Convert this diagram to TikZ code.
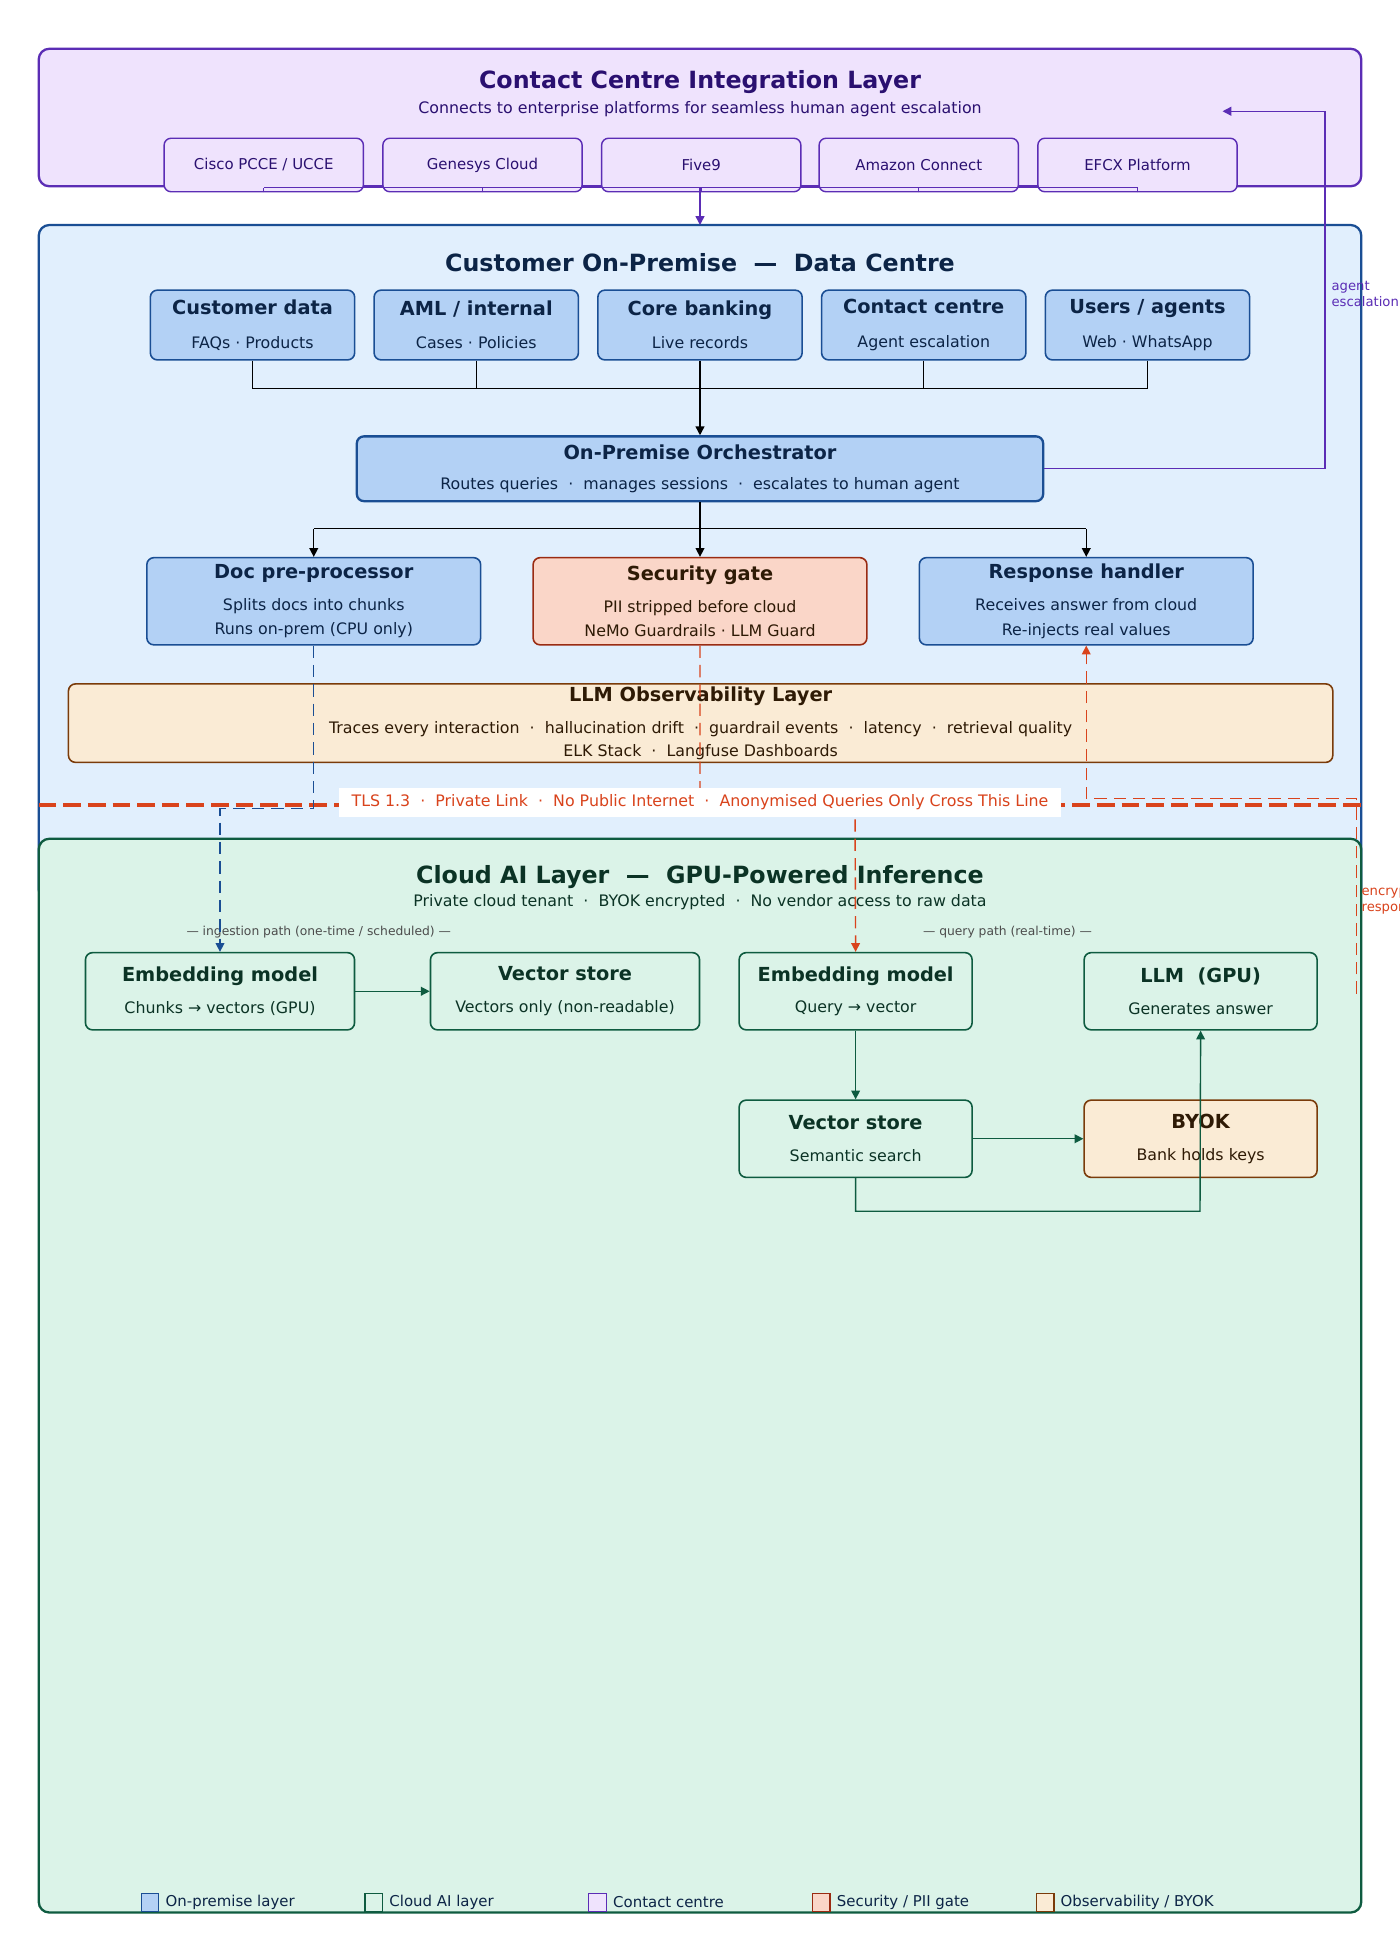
\documentclass[tikz,border=0pt]{standalone}
\usepackage{fontspec}
\setmainfont{DejaVu Sans}
\usetikzlibrary{arrows.meta, positioning, calc}
\definecolor{ccfill}{HTML}{EFE3FD}
\definecolor{ccdraw}{HTML}{5B2DB5}
\definecolor{cctext}{HTML}{2A1070}
\definecolor{opfill}{HTML}{E1EFFD}
\definecolor{opbox}{HTML}{B3D1F5}
\definecolor{opdraw}{HTML}{1A4E94}
\definecolor{optext}{HTML}{0C2446}
\definecolor{clfill}{HTML}{DBF3E8}
\definecolor{cldraw}{HTML}{0E5B40}
\definecolor{cltext}{HTML}{0B3325}
\definecolor{secfill}{HTML}{FAD6C8}
\definecolor{secdraw}{HTML}{9A2B12}
\definecolor{obfill}{HTML}{FAEBD5}
\definecolor{obdraw}{HTML}{7A3B0A}
\definecolor{obtext}{HTML}{2E1A05}
\definecolor{tlsred}{HTML}{D9431C}
\newcommand{\ttl}[1]{{\fontsize{11}{13}\selectfont\bfseries #1}}
\newcommand{\subt}[1]{{\fontsize{9}{11}\selectfont #1}}
\newcommand{\pxu}{0.70866pt}
\tikzset{
    layer/.style={rounded corners=6, line width=1.3pt},
    wd/.style={minimum width=#1*\pxu},
    ht/.style={minimum height=#1*\pxu},
    opbox/.style={draw=opdraw, fill=opbox, rounded corners=4, line width=0.9pt, text=optext, align=center, inner sep=0pt},
    clbox/.style={draw=cldraw, fill=clfill, rounded corners=4, line width=0.9pt, text=cltext, align=center, inner sep=0pt, ht=62, wd=187},
    ccbox/.style={draw=ccdraw, fill=ccfill, rounded corners=4, line width=0.8pt, text=cctext, wd=160, ht=43, font=\fontsize{8.5}{10}\selectfont},
    link/.style={line width=0.8pt, -{Triangle[length=5pt,width=5pt]}},
    legbox/.style={draw, line width=0.8pt, minimum size=10, inner sep=0pt},
    legtext/.style={right, font=\fontsize{8.5}{10}\selectfont, text=optext}
}
\begin{document}
\begin{tikzpicture}[x=0.025cm, y=-0.025cm]
    \useasboundingbox[fill=white] (0,0) rectangle (1120,1568);
    % contact centre layer
    \draw[layer, draw=ccdraw, fill=ccfill] (31,39) rectangle (1089,149);
    \node[text=cctext, font=\fontsize{13.5}{15}\selectfont\bfseries] (cctitle) at (560,66) {Contact Centre Integration Layer};
    \node[text=cctext, font=\fontsize{9}{11}\selectfont] (ccsub) at (560,87) {Connects to enterprise platforms for seamless human agent escalation};
    \node[ccbox] (cisco) at (211,132) {Cisco PCCE / UCCE};
    \node[ccbox] (genesys) at (386,132) {Genesys Cloud};
    \node[ccbox] (five9) at (561,132) {Five9};
    \node[ccbox] (amazon) at (735,132) {Amazon Connect};
    \node[ccbox] (efcx) at (910,132) {EFCX Platform};
    \coordinate (ccjoin) at (560,150);
    \foreach \p in {cisco,genesys,five9,amazon,efcx}
        \draw[ccdraw, line width=0.8pt] (\p.south) -- (\p.south |- ccjoin);
    \draw[ccdraw, line width=0.8pt] (cisco.south |- ccjoin) -- (efcx.south |- ccjoin);
    % on-premise layer
    \draw[layer, draw=opdraw, fill=opfill] (31,180) rectangle (1089,720);
    \draw[link, ccdraw] (ccjoin) -- (560,180);
    \node[text=optext, font=\fontsize{13.5}{15}\selectfont\bfseries] (optitle) at (560,210) {Customer On-Premise \ — \ Data Centre};
    \foreach \n/\x/\t/\s in {cust/202/{Customer data}/{FAQs · Products}, aml/381/{AML / internal}/{Cases · Policies}, core/560/{Core banking}/{Live records}, cc/739/{Contact centre}/{Agent escalation}, users/918/{Users / agents}/{Web · WhatsApp}}
        \node[opbox, wd=164, ht=56] (\n) at (\x,260) {\ttl{\t}\\[7pt]\subt{\s}};
    \coordinate (srcjoin) at (560,311);
    \foreach \n in {cust,aml,core,cc,users}
        \draw[line width=0.8pt] (\n.south) -- (\n.south |- srcjoin);
    \draw[line width=0.8pt] (cust.south |- srcjoin) -- (users.south |- srcjoin);
    \node[opbox, line width=1.3pt, wd=551, ht=52] (orch) at (560,375) {\ttl{On-Premise Orchestrator}\\[5pt]\subt{Routes queries \ · \ manages sessions \ · \ escalates to human agent}};
    \draw[link] (srcjoin) -- (orch.north);
    \node[opbox, wd=268, ht=70] (doc) at (251,481) {\ttl{Doc pre-processor}\\[6pt]\subt{Splits docs into chunks}\\[2pt]\subt{Runs on-prem (CPU only)}};
    \node[opbox, draw=secdraw, fill=secfill, text=obtext, wd=268, ht=70] (sec) at (560,481) {\ttl{Security gate}\\[6pt]\subt{PII stripped before cloud}\\[2pt]\subt{NeMo Guardrails · LLM Guard}};
    \node[opbox, wd=268, ht=70] (resp) at (869,481) {\ttl{Response handler}\\[6pt]\subt{Receives answer from cloud}\\[2pt]\subt{Re-injects real values}};
    \coordinate (split) at (560,423);
    \draw[line width=0.8pt] (orch.south) -- (split);
    \draw[line width=0.8pt] (doc.north |- split) -- (resp.north |- split);
    \foreach \n in {doc,sec,resp}
        \draw[link] (\n.north |- split) -- (\n.north);
    % agent escalation
    \coordinate (escup) at (1060,89);
    \draw[link, ccdraw] (orch.east) -| (escup) -- (978,89);
    \node[text=ccdraw, font=\fontsize{7.5}{9}\selectfont, align=left, anchor=north west, inner sep=0pt] (esclbl) at (1065,225) {agent\\escalation};
    % observability
    \node[draw=obdraw, fill=obfill, rounded corners=4, line width=0.9pt, text=obtext, align=center, wd=1015, ht=63, inner sep=0pt] (obs) at (560.5,578.5) {\ttl{LLM Observability Layer}\\[6pt]\subt{Traces every interaction \ · \ hallucination drift \ · \ guardrail events \ · \ latency \ · \ retrieval quality}\\[1pt]\subt{ELK Stack \ · \ Langfuse Dashboards}};
    % cloud layer
    \draw[layer, draw=cldraw, fill=clfill] (31,671) rectangle (1089,1530);
    \node[text=cltext, font=\fontsize{13.5}{15}\selectfont\bfseries] (cltitle) at (560,702) {Cloud AI Layer \ — \ GPU-Powered Inference};
    \node[text=cltext, font=\fontsize{9}{11}\selectfont] (clsub) at (560,722) {Private cloud tenant \ · \ BYOK encrypted \ · \ No vendor access to raw data};
    \node[text=black!70, font=\fontsize{7}{8}\selectfont] (inglbl) at (255,746) {— ingestion path (one-time / scheduled) —};
    \node[text=black!70, font=\fontsize{7}{8}\selectfont] (qrylbl) at (806,746) {— query path (real-time) —};
    \node[clbox, wd=216] (emb1) at (176,793) {\ttl{Embedding model}\\[6pt]\subt{Chunks → vectors (GPU)}};
    \node[clbox, wd=216] (vs1) at (452,793) {\ttl{Vector store}\\[6pt]\subt{Vectors only (non-readable)}};
    \node[clbox] (emb2) at (684.5,793) {\ttl{Embedding model}\\[6pt]\subt{Query → vector}};
    \node[clbox] (llm) at (960.5,793) {\ttl{LLM \ (GPU)}\\[6pt]\subt{Generates answer}};
    \node[clbox] (vs2) at (684.5,911) {\ttl{Vector store}\\[6pt]\subt{Semantic search}};
    \node[clbox, draw=obdraw, fill=obfill, text=obtext] (byok) at (960.5,911) {\ttl{BYOK}\\[6pt]\subt{Bank holds keys}};
    \draw[link, cldraw] (emb1) -- (vs1);
    \draw[link, cldraw] (emb2) -- (vs2);
    \draw[link, cldraw] (vs2) -- (byok);
    \draw[link, cldraw] (vs2.south) |- (960,969) -- (llm.south);
    % trust boundary
    \draw[tlsred, line width=2pt, dash pattern=on 10pt off 4pt] (31,644) -- (1089,644);
    \draw[link, opdraw, dash pattern=on 7pt off 4pt] (doc.south) |- (176,647) -- (emb1.north);
    \draw[link, tlsred, dash pattern=on 7pt off 4pt] (sec.south) |- (684,647) -- (emb2.north);
    \draw[link, tlsred, dash pattern=on 7pt off 4pt] (1085,795) |- (869,639) -- (resp.south);
    \node[fill=white, text=tlsred, font=\fontsize{9}{11}\selectfont, wd=580, ht=23, inner sep=0pt] (tls) at (560,642) {TLS 1.3 \ · \ Private Link \ · \ No Public Internet \ · \ Anonymised Queries Only Cross This Line};
    \node[text=tlsred, font=\fontsize{7.5}{9}\selectfont, align=left, anchor=north west, inner sep=0pt] (resplbl) at (1089,708) {encrypted\\response};
    % legend
    \foreach \n/\x/\d/\f/\t in {lop/120/opdraw/opbox/{On-premise layer}, lcl/299/cldraw/clfill/{Cloud AI layer}, lcc/478/ccdraw/ccfill/{Contact centre}, lsec/657/secdraw/secfill/{Security / PII gate}, lobs/836/obdraw/obfill/{Observability / BYOK}}
        \node[legbox, draw=\d, fill=\f] (\n) at (\x,1522) {} node[legtext] at (\n.east) {\t};
\end{tikzpicture}
\end{document}
